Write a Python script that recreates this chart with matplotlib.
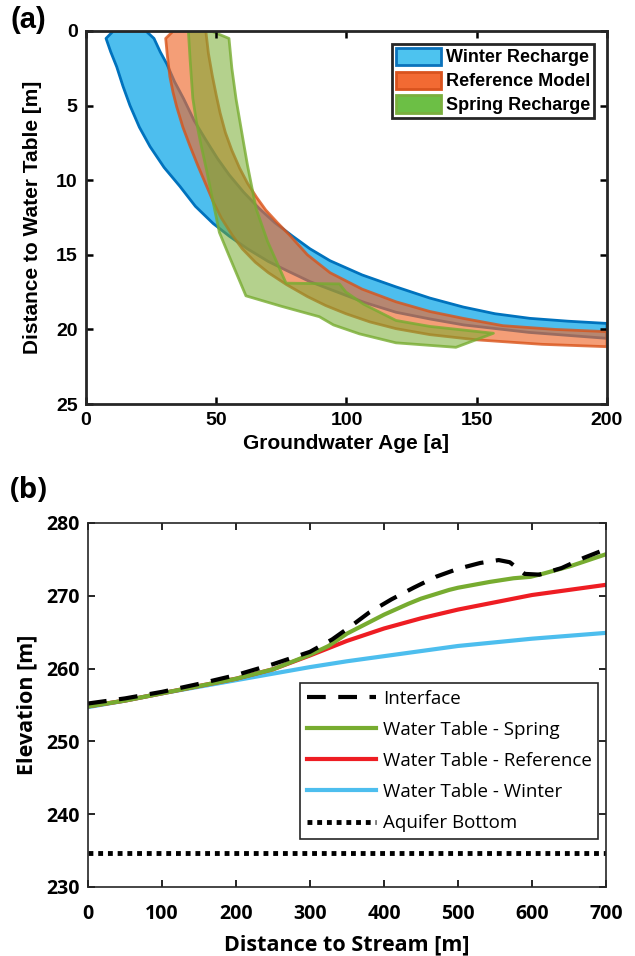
import matplotlib
matplotlib.use('Agg')
import matplotlib.pyplot as plt
from matplotlib.patches import Patch

# (a) bandas de idade: borda jovem e borda velha (idade [a], profundidade [m])
winter_young_age = [10.5, 7.7, 9.5, 11.8, 14.2, 16.9, 20.5, 24.6, 30.0, 36.0, 42.0, 48.8, 55.0, 62.0, 70.0, 77.0,
                    86.0, 95.0, 107.0, 119.0, 132.0, 145.0, 170.0, 200.0]
winter_young_depth = [0.0, 0.5, 1.4, 2.4, 3.7, 5.0, 6.45, 7.75, 9.15, 10.4, 11.75, 12.9, 13.75, 14.6, 15.45, 16.05,
                      16.8, 17.4, 18.2, 18.85, 19.3, 19.7, 20.2, 20.6]
winter_old_age = [23.0, 26.1, 28.5, 31.0, 34.0, 37.5, 41.5, 46.0, 50.5, 55.0, 60.5, 66.5, 72.5, 79.3, 86.0, 93.7,
                  106.0, 119.0, 132.0, 144.8, 157.0, 170.4, 185.0, 200.0]
winter_old_depth = [0.0, 0.5, 1.4, 2.2, 3.4, 4.55, 6.0, 7.3, 8.55, 9.65, 10.8, 11.9, 12.85, 13.75, 14.6, 15.4,
                    16.35, 17.15, 17.9, 18.5, 18.95, 19.26, 19.45, 19.6]

ref_young_age = [33.5, 30.6, 31.2, 32.2, 33.4, 34.8, 37.2, 39.9, 43.0, 46.3, 49.0, 52.0, 56.0, 60.0, 65.0, 70.0,
                 77.0, 85.0, 92.0, 99.8, 109.0, 119.0, 132.0, 150.0, 175.0, 200.0]
ref_young_depth = [0.0, 0.5, 1.6, 3.06, 4.1, 5.07, 6.45, 7.7, 9.05, 10.4, 11.5, 12.55, 13.65, 14.6, 15.5, 16.2,
                   17.0, 17.8, 18.4, 18.95, 19.5, 19.95, 20.35, 20.7, 21.0, 21.16]
ref_old_age = [46.0, 47.0, 48.5, 50.0, 51.5, 53.5, 56.0, 59.0, 62.0, 65.5, 69.0, 73.5, 78.0, 85.0, 93.7, 106.0,
               119.0, 132.0, 144.8, 160.0, 180.0, 200.0]
ref_old_depth = [0.0, 1.5, 3.0, 4.3, 5.5, 6.8, 8.0, 9.2, 10.2, 11.15, 12.0, 12.85, 13.65, 15.0, 16.2, 17.3,
                 18.15, 18.8, 19.26, 19.75, 20.0, 20.15]

spring_young_age = [39.3, 40.0, 41.0, 42.3, 44.0, 46.5, 48.6, 51.2, 55.0, 61.4, 75.0, 89.6, 95.0, 105.0, 119.0,
                    142.0, 156.4]
spring_young_depth = [0.0, 2.0, 4.5, 6.0, 7.5, 9.5, 11.3, 13.5, 15.1, 17.75, 18.45, 19.15, 19.7, 20.3, 20.9,
                      21.2, 20.26]
spring_old_age = [48.0, 54.9, 56.0, 57.6, 60.5, 62.0, 65.3, 69.7, 76.8, 97.3, 99.8, 106.5, 119.0, 132.0, 156.4]
spring_old_depth = [0.0, 0.5, 2.5, 4.55, 7.5, 9.0, 11.9, 14.1, 16.9, 16.95, 17.5, 18.3, 19.4, 19.8, 20.26]

# (b) perfis de elevacao
dist = [0, 50, 100, 150, 200, 250, 300, 350, 400, 450, 500, 550, 600, 650, 700]
wt_winter = [254.7, 255.6, 256.6, 257.5, 258.4, 259.3, 260.2, 261.0, 261.7, 262.4, 263.1, 263.6, 264.1, 264.5, 264.9]
wt_reference = [254.8, 255.6, 256.6, 257.6, 258.6, 259.9, 261.8, 263.8, 265.5, 266.9, 268.1, 269.1, 270.1, 270.8, 271.5]
spring_dist = [0, 50, 100, 150, 200, 250, 300, 325, 350, 377, 400, 433, 450, 488, 500, 543, 575, 598, 614, 653, 700]
wt_spring = [254.8, 255.6, 256.6, 257.6, 258.6, 259.9, 261.9, 263.1, 264.8, 266.2, 267.4, 268.9, 269.6, 270.8, 271.1,
             271.9, 272.4, 272.6, 273.0, 274.1, 275.7]
iface_dist = [0, 50, 100, 150, 200, 250, 300, 330, 355, 380, 410, 440, 470, 500, 530, 555, 570, 590, 610, 640, 670, 700]
iface_elev = [255.2, 255.9, 256.8, 257.9, 259.1, 260.6, 262.3, 264.0, 265.8, 267.7, 269.5, 271.1, 272.6, 273.7,
              274.5, 274.9, 274.6, 273.0, 272.9, 273.8, 275.2, 276.4]
bottom_dist = [0, 700]
bottom_elev = [234.7, 234.7]

plt.rcParams['font.family'] = ['Liberation Sans', 'DejaVu Sans']

fig = plt.figure(figsize=(6.35, 9.56), dpi=100)

# ---------- (a) ----------
ax1 = fig.add_axes([0.1354, 0.5774, 0.8205, 0.3902])

bandas = [
    (winter_young_age, winter_young_depth, winter_old_age, winter_old_depth, '#4DBEEE', '#0072BD', 1.0),
    (ref_young_age, ref_young_depth, ref_old_age, ref_old_depth, '#EF6A2E', '#D95319', 0.65),
    (spring_young_age, spring_young_depth, spring_old_age, spring_old_depth, '#77AC30', '#77AC30', 0.55),
]
for ya, yd, oa, od, fc, ec, al in bandas:
    xs = list(ya) + list(oa[::-1])
    ys = list(yd) + list(od[::-1])
    ax1.fill(xs, ys, facecolor=fc, alpha=al, edgecolor='none')
    ax1.fill(xs, ys, facecolor='none', edgecolor=ec, lw=2, alpha=max(al, 0.8), joinstyle='round')

ax1.set_xlim(0, 200)
ax1.set_ylim(25, 0)
ax1.set_xticks([0, 50, 100, 150, 200])
ax1.set_yticks([0, 5, 10, 15, 20, 25])
ax1.tick_params(direction='in', top=True, right=True, length=5, width=1.8, labelsize=14, pad=6)
for lab in ax1.get_xticklabels() + ax1.get_yticklabels():
    lab.set_fontweight('bold')
for s in ax1.spines.values():
    s.set_linewidth(2)
    s.set_color('#262626')
ax1.set_xlabel('Groundwater Age [a]', fontsize=15, fontweight='bold', labelpad=3)
ax1.set_ylabel('Distance to Water Table [m]', fontsize=15, fontweight='bold', labelpad=10)

handles = [
    Patch(facecolor='#4DC3EF', edgecolor='#0B72BB', lw=2, label='Winter Recharge'),
    Patch(facecolor='#F26A33', edgecolor='#D9531E', lw=2, label='Reference Model'),
    Patch(facecolor='#6CBF45', edgecolor='#7AAF3E', lw=2, label='Spring Recharge'),
]
leg1 = ax1.legend(handles=handles, loc='upper right', bbox_to_anchor=(0.975, 0.965), fancybox=False,
                  framealpha=1, edgecolor='#262626', prop={'weight': 'bold', 'size': 13},
                  handlelength=2.5, handleheight=1.1, labelspacing=0.28, borderpad=0.2,
                  handletextpad=0.3, borderaxespad=0)
leg1.get_frame().set_linewidth(2)

fig.text(0.016, 0.979, '(a)', fontsize=21, fontweight='bold', va='center', ha='left')

# ---------- (b) ----------
fb = ['Open Sans', 'DejaVu Sans']
ax2 = fig.add_axes([0.1386, 0.0722, 0.8157, 0.3808])

l_bot, = ax2.plot(bottom_dist, bottom_elev, color='black', lw=3.5, linestyle=(0, (1, 1)), label='Aquifer Bottom')
l_win, = ax2.plot(dist, wt_winter, color='#4DBEEE', lw=3, label='Water Table - Winter')
l_ref, = ax2.plot(dist, wt_reference, color='#EE1D23', lw=3, label='Water Table - Reference')
l_spr, = ax2.plot(spring_dist, wt_spring, color='#77AC30', lw=3, label='Water Table - Spring')
l_int, = ax2.plot(iface_dist, iface_elev, color='black', lw=3, dashes=(4.5, 3), label='Interface')

ax2.set_xlim(0, 700)
ax2.set_ylim(230, 280)
ax2.set_xticks(range(0, 701, 100))
ax2.set_yticks(range(230, 281, 10))
ax2.tick_params(direction='in', top=True, right=True, length=5, width=1.2, labelsize=14, pad=12)
for lab in ax2.get_xticklabels() + ax2.get_yticklabels():
    lab.set_fontweight('bold')
    lab.set_family(fb)
ax2.tick_params(axis='y', pad=6)
for s in ax2.spines.values():
    s.set_linewidth(1.2)
    s.set_color('#262626')
ax2.set_xlabel('Distance to Stream [m]', fontsize=15.5, fontweight='bold', family=fb, labelpad=8)
ax2.set_ylabel('Elevation [m]', fontsize=15.5, fontweight='bold', family=fb, labelpad=6)

leg2 = ax2.legend(handles=[l_int, l_spr, l_ref, l_win, l_bot], loc='upper right', bbox_to_anchor=(0.985, 0.56),
                  fancybox=False, framealpha=1, edgecolor='#262626', prop={'family': fb, 'size': 13.5},
                  handlelength=3.7, labelspacing=0.7, borderpad=0.35, handletextpad=0.35, borderaxespad=0)
leg2.get_frame().set_linewidth(1.2)

fig.text(0.016, 0.487, '(b)', fontsize=21, fontweight='bold', family=fb, va='center', ha='left')

fig.savefig('out.png', dpi=100)
